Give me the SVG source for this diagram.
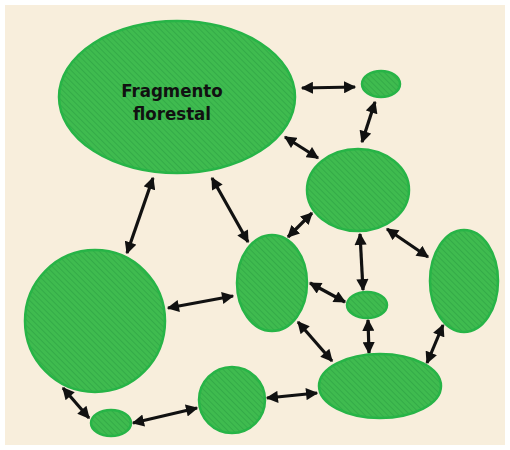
<svg xmlns="http://www.w3.org/2000/svg" width="510" height="450" viewBox="0 0 510 450">
  <defs>
    <pattern id="hatch" patternUnits="userSpaceOnUse" width="4" height="4" patternTransform="rotate(-45)">
      <rect width="4" height="4" fill="#3fbb4f"/>
      <line x1="0" y1="0" x2="0" y2="4" stroke="#2fa445" stroke-width="1.4"/>
    </pattern>
    <marker id="ah" viewBox="0 0 10 10" refX="9" refY="5" markerWidth="4" markerHeight="3.8" orient="auto-start-reverse" markerUnits="strokeWidth">
      <path d="M0,0 L10,5 L0,10 Z" fill="#111"/>
    </marker>
    <style>
      .n { fill: url(#hatch); stroke: #27b447; stroke-width: 2.5; }
      .c line { stroke: #111; stroke-width: 3.2; marker-start: url(#ah); marker-end: url(#ah); }
      .lbl { font-family: "DejaVu Sans Condensed", "DejaVu Sans", sans-serif; font-stretch: condensed; font-weight: bold; font-size: 18.5px; fill: #111; text-anchor: middle; }
    </style>
  </defs>
  <rect width="510" height="450" fill="#ffffff"/>
  <rect x="5" y="5" width="500" height="440" fill="#f8eedc"/>

  <g class="c" id="connectors">
    <line x1="302" y1="88" x2="355" y2="87"/>
    <line x1="375" y1="102" x2="362" y2="142"/>
    <line x1="285" y1="137" x2="318" y2="158"/>
    <line x1="153" y1="178" x2="127" y2="253"/>
    <line x1="212" y1="178" x2="248" y2="242"/>
    <line x1="312" y1="213" x2="288" y2="237"/>
    <line x1="360" y1="234" x2="363" y2="290"/>
    <line x1="387" y1="229" x2="428" y2="257"/>
    <line x1="168" y1="308" x2="233" y2="296"/>
    <line x1="310" y1="283" x2="345" y2="302"/>
    <line x1="368" y1="320" x2="369" y2="353"/>
    <line x1="298" y1="322" x2="332" y2="361"/>
    <line x1="443" y1="325" x2="427" y2="363"/>
    <line x1="267" y1="398" x2="317" y2="393"/>
    <line x1="133" y1="423" x2="197" y2="408"/>
    <line x1="63" y1="388" x2="89" y2="418"/>
  </g>

  <g id="fragmento">
    <ellipse class="n" cx="177" cy="97" rx="118" ry="76"/>
    <text class="lbl" x="172" y="97">Fragmento</text>
    <text class="lbl" x="172" y="120">florestal</text>
  </g>
  <g id="n2"><ellipse class="n" cx="381" cy="84" rx="19" ry="13"/></g>
  <g id="n3"><ellipse class="n" cx="358" cy="190" rx="51" ry="41"/></g>
  <g id="n4"><ellipse class="n" cx="272" cy="283" rx="35" ry="48"/></g>
  <g id="n5"><ellipse class="n" cx="95" cy="321" rx="70" ry="71"/></g>
  <g id="n6"><ellipse class="n" cx="367" cy="305" rx="20" ry="13"/></g>
  <g id="n7"><ellipse class="n" cx="464" cy="281" rx="34" ry="51"/></g>
  <g id="n8"><ellipse class="n" cx="380" cy="386" rx="61" ry="32"/></g>
  <g id="n9"><ellipse class="n" cx="232" cy="400" rx="33" ry="33"/></g>
  <g id="n10"><ellipse class="n" cx="111" cy="423" rx="20" ry="13"/></g>
</svg>
